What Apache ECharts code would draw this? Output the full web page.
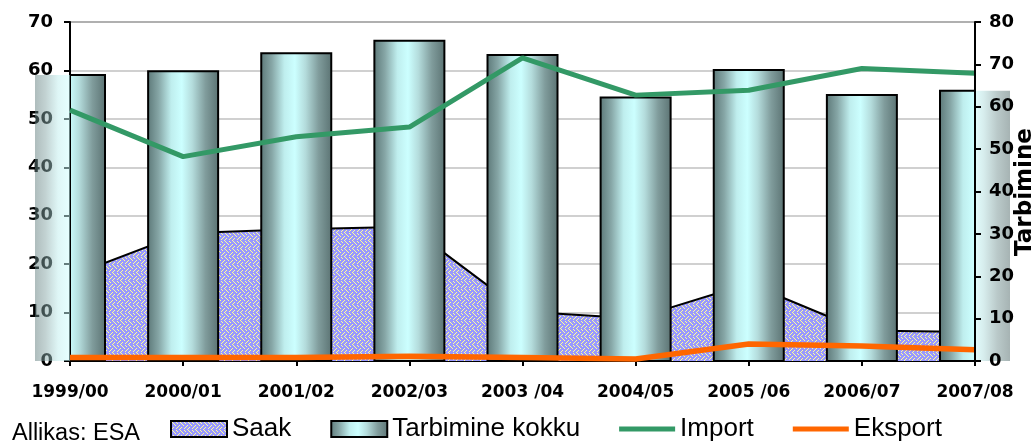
<!DOCTYPE html>
<html>
<head>
<meta charset="utf-8">
<script src="https://cdn.jsdelivr.net/npm/echarts@6/dist/echarts.min.js"></script>
<style>html,body{margin:0;padding:0;background:#fff;}#c{width:1031px;height:446px;}</style>
</head>
<body>
<div id="c"></div>
<script>
// ---- data ----
var categories = ['1999/00','2000/01','2001/02','2002/03','2003 /04','2004/05','2005 /06','2006/07','2007/08'];
var saak = [17.5, 26.4, 27.2, 27.7, 10.2, 8.8, 16.0, 6.3, 6.0];
var tarbimine = [67.5, 68.4, 72.6, 75.6, 72.2, 62.2, 68.7, 62.8, 63.8];
var importData = [51.8, 42.2, 46.3, 48.3, 62.6, 54.9, 55.9, 60.4, 59.4];
var eksport = [0.7, 0.7, 0.7, 1.0, 0.7, 0.4, 3.5, 3.1, 2.3];
var leftTicks = {min: 0, max: 70, interval: 10};
var rightTicks = {min: 0, max: 80, interval: 10};

// ---- weave pattern for Saak ----
var weave = ['10000000','01000100','00100010','00010000','10001000','00000001','00100010','01000100'];
var pc = document.createElement('canvas');
pc.width = 8; pc.height = 8;
var g = pc.getContext('2d');
g.fillStyle = '#9999ff';
g.fillRect(0, 0, 8, 8);
g.fillStyle = '#ffff99';
weave.forEach(function(row, y){
  for (var x = 0; x < 8; x++) if (row[x] === '1') g.fillRect(x, y, 1, 1);
});
var saakPattern = {image: pc, repeat: 'repeat'};

var gradStops = [
  {offset: 0, color: '#5f7b7b'},
  {offset: 0.15, color: '#86a6a6'},
  {offset: 0.33, color: '#bfeeee'},
  {offset: 0.48, color: '#ccffff'},
  {offset: 0.63, color: '#b4dcdc'},
  {offset: 0.82, color: '#809c9c'},
  {offset: 1, color: '#5d7575'}
];
var barGrad = new echarts.graphic.LinearGradient(0, 0, 1, 0, gradStops);
var BAR_W = 70;
var barData = tarbimine.map(function(v, i){ return [i, v]; });

// overflow: only the parts of each bar lying outside the plot area, faded
function renderOverflow(params, api) {
  var top = api.coord([api.value(0), api.value(1)]);
  var base = api.coord([api.value(0), 0]);
  var x0 = top[0] - BAR_W / 2;
  var cs = params.coordSys;
  var fill = new echarts.graphic.LinearGradient(x0, 0, x0 + BAR_W, 0, gradStops, true);
  var parts = [];
  if (x0 < cs.x) {
    parts.push({type: 'rect', shape: {x: x0, y: top[1], width: cs.x - x0, height: base[1] - top[1]},
                style: {fill: fill, opacity: 0.5}});
  }
  if (x0 + BAR_W > cs.x + cs.width) {
    parts.push({type: 'rect', shape: {x: cs.x + cs.width, y: top[1], width: x0 + BAR_W - cs.x - cs.width, height: base[1] - top[1]},
                style: {fill: fill, opacity: 0.55}});
  }
  return {type: 'group', children: parts};
}

function renderBar(params, api) {
  var top = api.coord([api.value(0), api.value(1)]);
  var base = api.coord([api.value(0), 0]);
  var x0 = top[0] - BAR_W / 2;
  var cs = params.coordSys;
  var rect = echarts.graphic.clipRectByRect({x: x0, y: top[1], width: BAR_W, height: base[1] - top[1]},
    {x: cs.x, y: cs.y, width: cs.width, height: cs.height});
  if (!rect) return null;
  return {type: 'rect', shape: rect,
          style: {fill: new echarts.graphic.LinearGradient(x0, 0, x0 + BAR_W, 0, gradStops, true),
                  stroke: '#000', lineWidth: 2}};
}

var chart = echarts.init(document.getElementById('c'), null, {renderer: 'canvas'});
var boldLabel = {fontFamily: 'DejaVu Sans', fontWeight: 'bold', color: '#000'};

chart.setOption({
  animation: false,
  grid: {left: 70, right: 56, top: 22, bottom: 85, containLabel: false, outerBoundsMode: 'none',
         show: true, borderColor: '#808080', borderWidth: 2, backgroundColor: 'transparent'},
  legend: {
    left: 165, top: 409, itemWidth: 56, itemHeight: 16, itemGap: 39,
    textStyle: {fontFamily: 'Liberation Sans', fontSize: 26, color: '#000', lineHeight: 30},
    data: [
      {name: 'Saak', icon: 'rect', itemStyle: {color: saakPattern, borderColor: '#000', borderWidth: 2}},
      {name: 'Tarbimine kokku', icon: 'rect', itemStyle: {color: barGrad, borderColor: '#000', borderWidth: 2}},
      {name: 'Import', icon: 'path://M0,0H56V5H0Z', itemStyle: {color: '#339966', borderWidth: 0}},
      {name: 'Eksport', icon: 'path://M0,0H56V5H0Z', itemStyle: {color: '#ff6600', borderWidth: 0}}
    ]
  },
  graphic: [{
    type: 'text', left: 12, top: 422,
    style: {text: 'Allikas: ESA', fontFamily: 'Liberation Sans', fontSize: 23.5, fill: '#000'}
  }, {
    type: 'text', x: 1025, y: 192, rotation: Math.PI / 2, z: 300,
    style: {text: 'Tarbimine', fontFamily: 'DejaVu Sans', fontWeight: 'bold', fontSize: 23, fill: '#000',
            align: 'center', verticalAlign: 'middle'}
  }],
  xAxis: [{
    type: 'category', data: categories, boundaryGap: false,
    axisLine: {lineStyle: {color: '#000', width: 2}},
    axisTick: {show: true, length: 5, lineStyle: {color: '#000', width: 2}},
    axisLabel: Object.assign({fontSize: 17, margin: 23, interval: 0, alignMinLabel: 'center', alignMaxLabel: 'center'}, boldLabel),
    splitLine: {show: false}
  }],
  yAxis: [{
    type: 'value', min: leftTicks.min, max: leftTicks.max, interval: leftTicks.interval, position: 'left',
    axisLine: {show: true, lineStyle: {color: '#000', width: 2}},
    axisTick: {show: true, length: 6, lineStyle: {color: '#000', width: 2}},
    axisLabel: Object.assign({fontSize: 18, margin: 17}, boldLabel),
    splitLine: {show: false}
  }, {
    type: 'value', min: rightTicks.min, max: rightTicks.max, interval: rightTicks.interval, position: 'right', z: 200,
    axisLine: {show: true, lineStyle: {color: '#000', width: 2}},
    axisTick: {show: true, length: 6, lineStyle: {color: '#000', width: 2}},
    axisLabel: Object.assign({fontSize: 18, margin: 14}, boldLabel),
    splitLine: {show: false}
  }, {
    type: 'value', min: leftTicks.min, max: leftTicks.max, interval: leftTicks.interval, position: 'left',
    axisLine: {show: false}, axisTick: {show: false}, axisLabel: {show: false},
    splitLine: {show: true, lineStyle: {color: '#c0c0c0', width: 1.5}}
  }],
  series: [{
    name: 'Saak', type: 'line', data: saak, yAxisIndex: 0, z: 1,
    symbol: 'none', showSymbol: false,
    lineStyle: {color: '#000', width: 2},
    itemStyle: {color: saakPattern},
    areaStyle: {color: saakPattern, opacity: 1}
  }, {
    name: 'Tarbimine kokku (overflow)', type: 'custom', yAxisIndex: 1, z: 100, silent: true,
    data: barData, encode: {x: 0, y: 1}, clip: false,
    renderItem: renderOverflow
  }, {
    name: 'Tarbimine kokku', type: 'custom', yAxisIndex: 1, z: 3,
    data: barData, encode: {x: 0, y: 1},
    renderItem: renderBar
  }, {
    name: 'Import', type: 'line', data: importData, yAxisIndex: 0, z: 5,
    symbol: 'none', showSymbol: false,
    lineStyle: {color: '#339966', width: 5},
    itemStyle: {color: '#339966'}
  }, {
    name: 'Eksport', type: 'line', data: eksport, yAxisIndex: 0, z: 6,
    symbol: 'none', showSymbol: false,
    lineStyle: {color: '#ff6600', width: 5.5},
    itemStyle: {color: '#ff6600'}
  }]
});
</script>
</body>
</html>
